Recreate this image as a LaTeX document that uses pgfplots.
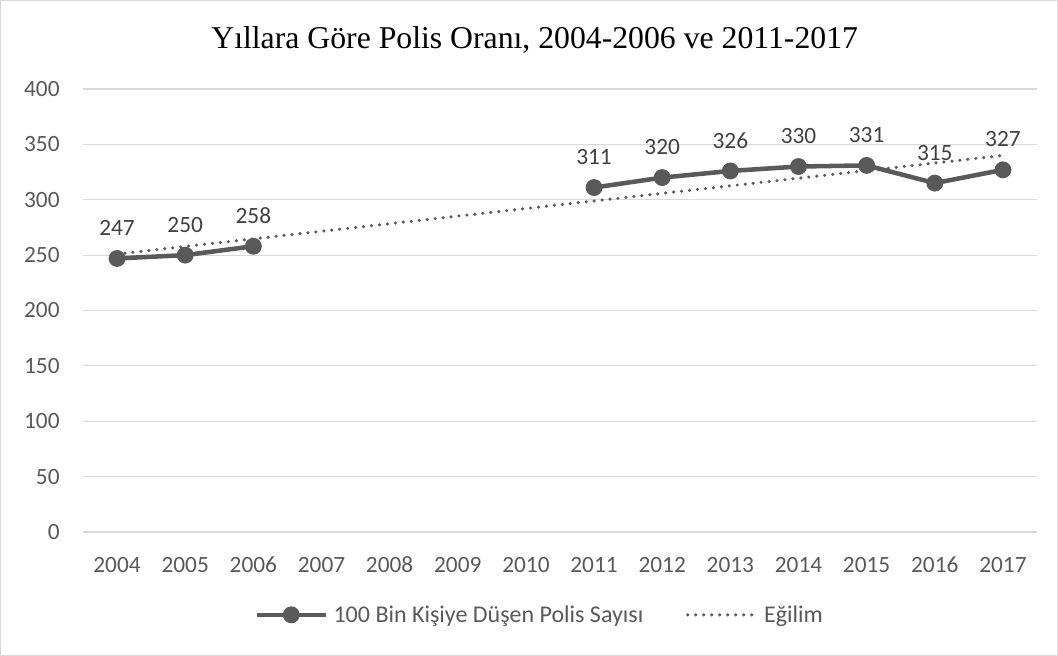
\documentclass[border=0pt]{standalone}
\usepackage{pgfplots}
\pgfplotsset{compat=1.18}
\usepackage{fontspec}
\setmainfont{Carlito}
\newfontfamily\titlefont{Liberation Serif}
\definecolor{linegray}{HTML}{595959}
\definecolor{gridgray}{HTML}{D9D9D9}
\definecolor{labelgray}{HTML}{404040}
\begin{document}
\begin{tikzpicture}
\begin{axis}[
  at={(62.25pt,93pt)}, anchor=south west,
  scale only axis,
  width=715.5pt, height=332.25pt,
  xmin=-0.5, xmax=13.5,
  ymin=0, ymax=400,
  xtick={0,...,13},
  xticklabels={2004,2005,2006,2007,2008,2009,2010,2011,2012,2013,2014,2015,2016,2017},
  ytick={0,50,...,400},
  axis line style={draw=none},
  major tick style={draw=none},
  ymajorgrids=true,
  grid style={gridgray, line width=0.9pt},
  tick label style={font=\fontsize{17.5}{20}\selectfont, text=linegray},
  /pgf/number format/assume math mode=true,
  xticklabel style={yshift=-19pt, text height=1.6ex, text depth=0.3ex},
  yticklabel style={xshift=-14pt},
  unbounded coords=jump,
  legend style={at={(0.479,-0.187)}, anchor=center, draw=none, fill=none,
    font=\fontsize{18}{20}\selectfont, text=linegray, legend columns=2,
    /tikz/every even column/.append style={column sep=30pt},
    /tikz/every odd column/.append style={column sep=2pt}},
  legend image code/.code={
    \draw[#1] (0pt,0pt) -- (52pt,0pt);
    \path[#1] plot coordinates {(26pt,0pt)};
  },
]
\addplot[linegray, line width=3.4pt, mark=*, mark size=4.6pt,
  mark options={fill=linegray, draw=linegray},
  nodes near coords, point meta=explicit symbolic,
  nodes near coords style={font=\fontsize{17.5}{20}\selectfont, text=labelgray, anchor=south, yshift=12pt}]
  coordinates {
  (0,247) [247]
  (1,250) [250]
  (2,258) [258]
  (3,nan)
  (4,nan)
  (5,nan)
  (6,nan)
  (7,311) [311]
  (8,320) [320]
  (9,326) [326]
  (10,330) [330]
  (11,331) [331]
  (12,315) [315]
  (13,327) [327]
  };
\addlegendentry{100 Bin Kişiye Düşen Polis Sayısı}
\addplot[linegray, line width=2.6pt, dash pattern=on 0pt off 6pt, line cap=round, mark=none]
  coordinates {(0,251) (13,340)};
\addlegendentry{Eğilim}
\end{axis}
\node[font=\titlefont\fontsize{23.8}{27}\selectfont, anchor=center] at (401pt,462pt)
  {Yıllara Göre Polis Oranı, 2004-2006 ve 2011-2017};
\draw[gridgray, line width=0.8pt] (0.4pt,0.4pt) rectangle (793.1pt,491.6pt);
\end{tikzpicture}
\end{document}
